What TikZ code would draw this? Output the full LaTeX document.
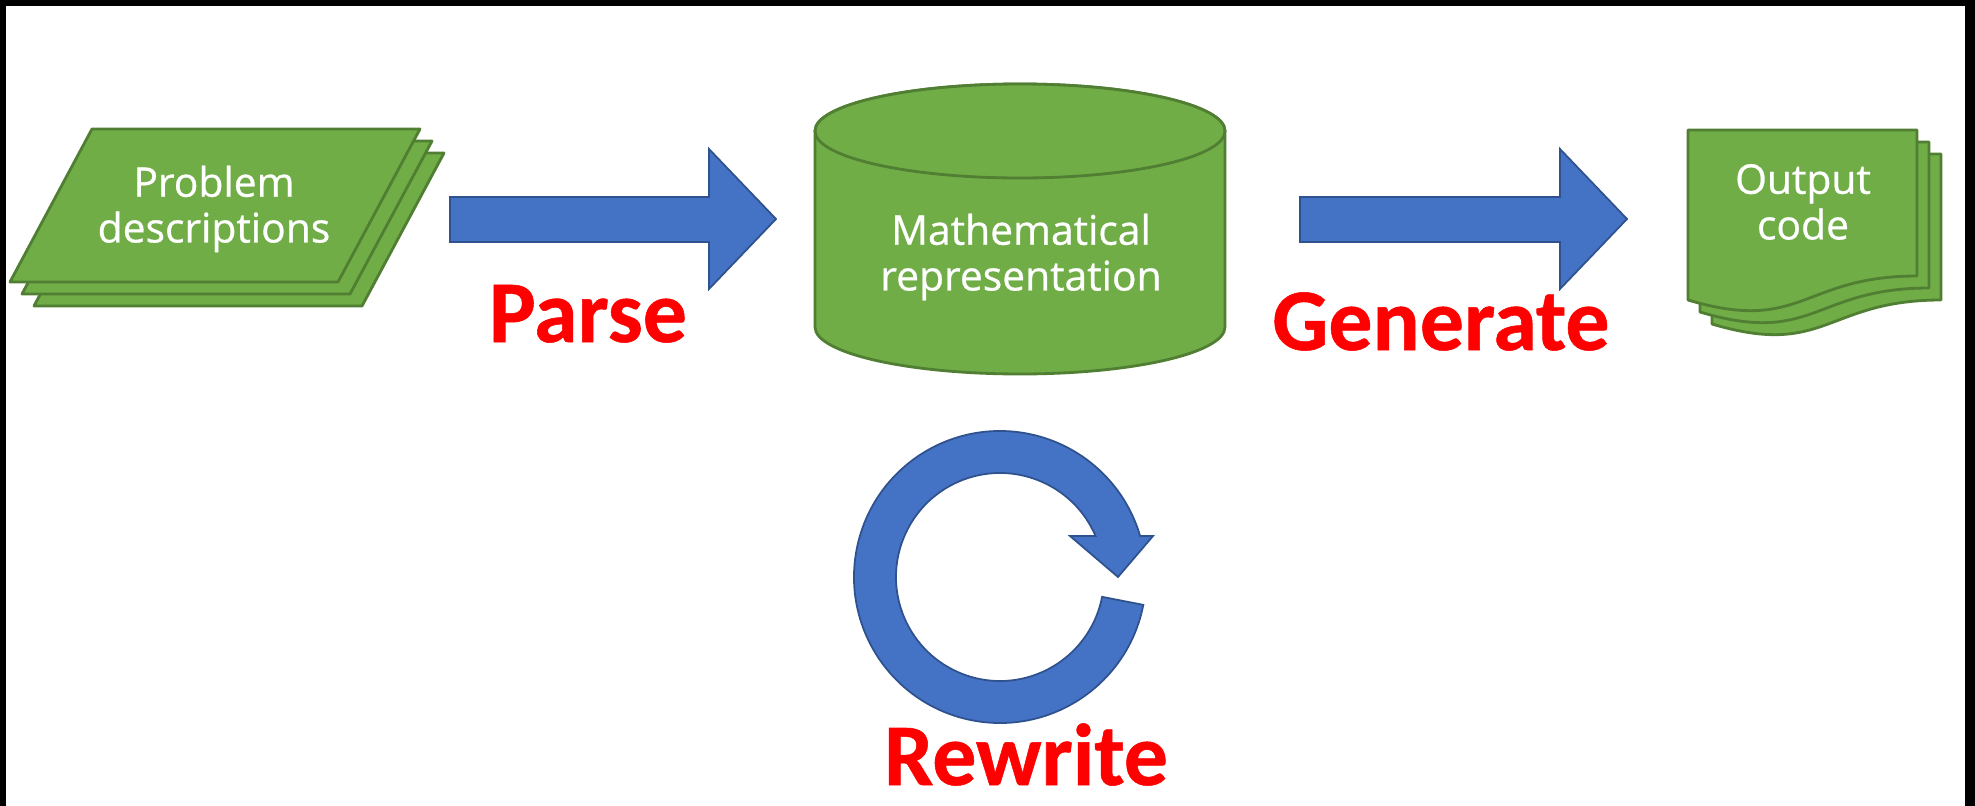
\documentclass[tikz,border=0pt]{standalone}
\usepackage{fontspec}
\setmainfont{Open Sans}
\newfontfamily\shapefont{Open Sans}[FakeBold=0.7]
\newfontfamily\labelfont{Carlito}[FakeBold=0.6]
\definecolor{shapegreen}{RGB}{112, 173, 71}
\definecolor{edgegreen}{RGB}{80, 126, 50}
\definecolor{arrowblue}{RGB}{68, 114, 196}
\definecolor{edgeblue}{RGB}{47, 82, 143}
\definecolor{labelred}{RGB}{255, 0, 0}
\usetikzlibrary{calc}

\begin{document}
\begin{tikzpicture}[x=0.01cm, y=-0.01cm,
    greenshape/.style={fill=shapegreen, draw=edgegreen, line width=0.8pt, line join=round},
    bluearrow/.style={fill=arrowblue, draw=edgeblue, line width=0.5pt, line join=miter},
    shapetext/.style={text=white, align=center, inner sep=0pt, font=\shapefont\fontsize{11.6}{13}\selectfont},
    steplabel/.style={text=labelred, anchor=base, inner sep=0pt, font=\labelfont\bfseries\fontsize{25}{30}\selectfont}]
    \useasboundingbox (0, 0) rectangle (1975, 806);
    % frame
    \fill[black] (0, 0) rectangle (1975, 806);
    \fill[white] (6, 6) rectangle (1965, 806);

    % problem descriptions (stacked parallelograms)
    \foreach \d in {24, 12, 0} {
        \draw[greenshape, shift={(\d, \d)}] (92, 129) -- (420, 129) -- (338, 282) -- (10, 282) -- cycle;
    }
    \node[shapetext] (problem) at (214, 209) {Problem\\descriptions};

    % parse arrow
    \draw[bluearrow] (450, 197) -- (709, 197) -- (709, 149) -- (776, 219)
        -- (709, 289) -- (709, 242) -- (450, 242) -- cycle;
    \node[steplabel] (parse) at (588, 342) {Parse};

    % mathematical representation (cylinder)
    \draw[greenshape] (815, 131) -- (815, 327) arc[start angle=180, end angle=0, x radius=205, y radius=47]
        -- (1225, 131) arc[start angle=0, end angle=-180, x radius=205, y radius=47];
    \draw[greenshape] (1020, 131) ellipse[x radius=205, y radius=47];
    \node[shapetext] (mathrep) at (1021, 257) {Mathematical\\representation};

    % generate arrow
    \draw[bluearrow] (1300, 197) -- (1560, 197) -- (1560, 149) -- (1627, 219)
        -- (1560, 289) -- (1560, 242) -- (1300, 242) -- cycle;
    \node[steplabel] (generate) at (1441, 350) {Generate};

    % output code (stacked documents)
    \foreach \d in {24, 12, 0} {
        \draw[greenshape, shift={(\d, \d)}] (1688, 130) -- (1917, 130) -- (1917, 276)
            .. controls (1802, 276) and (1802, 334) .. (1688, 300) -- cycle;
    }
    \node[shapetext] (outcode) at (1803, 202) {Output\\code};

    % rewrite loop
    \coordinate (loopc) at (1000, 577);
    \draw[bluearrow] ([shift={(11:146)}]loopc) arc[start angle=11, end angle=343.7, radius=146]
        -- (1153, 536) -- (1118, 577) -- (1070, 536)
        -- ([shift={(336.8:104)}]loopc) arc[start angle=336.8, end angle=11, radius=104] -- cycle;
    \node[steplabel] (rewrite) at (1026, 785) {Rewrite};
\end{tikzpicture}
\end{document}
